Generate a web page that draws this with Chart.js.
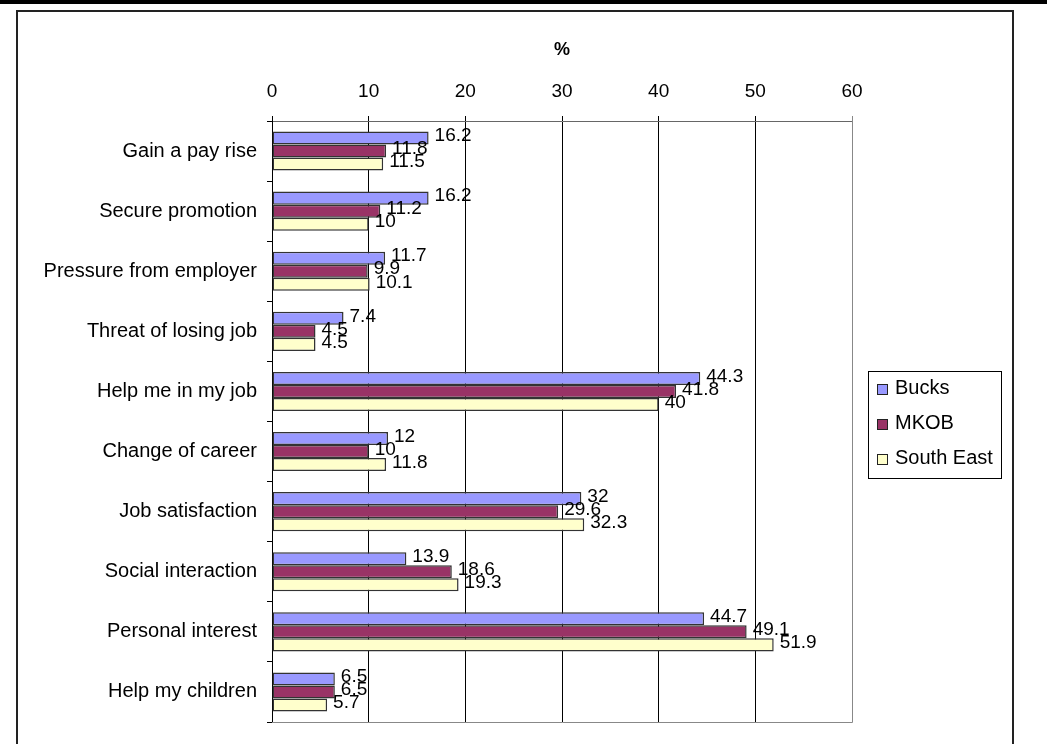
<!DOCTYPE html>
<html>
<head>
<meta charset="utf-8">
<script src="https://cdn.jsdelivr.net/npm/chart.js@4.4.0/dist/chart.umd.min.js"></script>
<style>
  html, body { margin: 0; padding: 0; background: #fff; }
  #wrap { position: relative; width: 1047px; height: 744px; }
</style>
</head>
<body>
<div id="wrap"><canvas id="reasonsChart" width="1047" height="744"></canvas></div>
<script>
// Reasons for learning, % of respondents
const categories = [
  'Gain a pay rise', 'Secure promotion', 'Pressure from employer', 'Threat of losing job',
  'Help me in my job', 'Change of career', 'Job satisfaction', 'Social interaction',
  'Personal interest', 'Help my children'
];
const bucks = [16.2, 16.2, 11.7, 7.4, 44.3, 12, 32, 13.9, 44.7, 6.5];
const mkob = [11.8, 11.2, 9.9, 4.5, 41.8, 10, 29.6, 18.6, 49.1, 6.5];
const southEast = [11.5, 10, 10.1, 4.5, 40, 11.8, 32.3, 19.3, 51.9, 5.7];
const seriesNames = ['Bucks', 'MKOB', 'South East'];
const seriesColors = ['#9999FF', '#993366', '#FFFFCC'];
const xTicks = [0, 10, 20, 30, 40, 50, 60];

const FONT = 'Arial, "Liberation Sans", sans-serif';

// frame around the whole figure, plot border, value labels and legend
const decorPlugin = {
  id: 'decor',
  beforeDraw(chart) {
    const c = chart.ctx;
    c.save();
    c.fillStyle = '#fff';
    c.fillRect(0, 0, chart.width, chart.height);
    c.fillStyle = '#000';
    c.fillRect(0, 0, chart.width, 4);
    c.strokeStyle = '#222';
    c.lineWidth = 2;
    c.strokeRect(17, 11, 996, 760);
    c.restore();
  },
  afterDatasetsDraw(chart) {
    const c = chart.ctx;
    const a = chart.chartArea;
    c.save();
    c.strokeStyle = '#888';
    c.lineWidth = 1;
    c.beginPath();
    c.moveTo(a.right + 0.5, a.top);
    c.lineTo(a.right + 0.5, a.bottom + 0.5);
    c.lineTo(a.left, a.bottom + 0.5);
    c.stroke();

    c.font = '19px ' + FONT;
    c.fillStyle = '#000';
    c.textAlign = 'left';
    c.textBaseline = 'middle';
    chart.data.datasets.forEach((ds, i) => {
      chart.getDatasetMeta(i).data.forEach((bar, j) => {
        c.fillText(String(ds.data[j]), bar.x + 6, bar.y - 2);
      });
    });

    // legend box
    const lx = 868, ly = 371, lw = 133, lh = 107;
    c.font = '20px ' + FONT;
    c.strokeStyle = '#000';
    c.strokeRect(lx + 0.5, ly + 0.5, lw, lh);
    chart.data.datasets.forEach((ds, i) => {
      const cy = ly + 18 + i * 35;
      c.fillStyle = ds.backgroundColor;
      c.fillRect(877, cy - 5, 11, 11);
      c.strokeStyle = '#222';
      c.strokeRect(877.5, cy - 4.5, 10, 10);
      c.fillStyle = '#000';
      c.fillText(ds.label, 895, cy - 1);
    });
    c.restore();
  }
};

const datasets = [bucks, mkob, southEast].map((vals, i) => ({
  label: seriesNames[i],
  data: vals,
  backgroundColor: seriesColors[i],
  borderColor: '#333',
  borderWidth: 1.5,
  borderSkipped: false,
  categoryPercentage: 0.65,
  barPercentage: 1
}));

new Chart(document.getElementById('reasonsChart'), {
  type: 'bar',
  data: { labels: categories, datasets: datasets },
  plugins: [decorPlugin],
  options: {
    indexAxis: 'y',
    responsive: false,
    animation: false,
    layout: { padding: { left: 17, top: 0, right: 195, bottom: 17 } },
    plugins: {
      legend: { display: false },
      tooltip: { enabled: false }
    },
    scales: {
      x: {
        position: 'top',
        min: 0,
        max: 60,
        afterBuildTicks(scale) {
          scale.ticks = xTicks.map(v => ({ value: v }));
        },
        afterFit(scale) { scale.height = 121; },
        grid: {
          color: ctx => (ctx.tick && ctx.tick.value === 60 ? '#888' : '#000'),
          lineWidth: 1,
          tickLength: 5
        },
        border: { color: '#666' },
        ticks: {
          color: '#000',
          font: { family: FONT, size: 19 },
          padding: 13
        },
        title: {
          display: true,
          text: '%',
          color: '#000',
          font: { family: FONT, size: 18, weight: 'bold' },
          padding: { top: 39, bottom: 0 }
        }
      },
      y: {
        afterFit(scale) { scale.width = 255; },
        grid: {
          drawOnChartArea: false,
          color: '#000',
          tickLength: 5,
          offset: true
        },
        border: { color: '#000' },
        ticks: {
          color: '#000',
          font: { family: FONT, size: 20 },
          padding: 10
        }
      }
    }
  }
});
</script>
</body>
</html>
